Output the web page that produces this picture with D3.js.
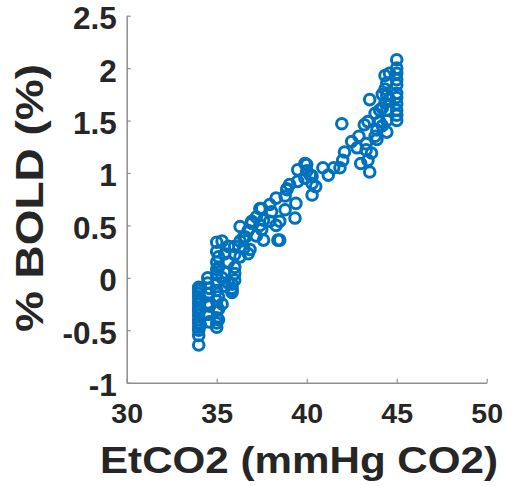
<!DOCTYPE html>
<html>
<head>
<meta charset="utf-8">
<script src="https://cdn.jsdelivr.net/npm/d3@7"></script>
<style>
  html, body { margin: 0; padding: 0; background: #fff; }
  text { font-family: "Liberation Sans", Arial, sans-serif; font-weight: bold; fill: #262626; }
</style>
</head>
<body>
<svg id="chart"></svg>
<script>
"use strict";

// EtCO2 (mmHg) for each scan point
const etco2 = [
  34.0, 34.0, 34.0, 34.0, 34.0, 34.0, 34.0, 34.0, 34.0, 34.0, 34.0, 34.0, 34.0, 34.0, 34.0,
  34.1, 34.1, 34.1, 34.1,
  34.5, 34.5, 34.5, 34.5, 34.5,
  34.6, 34.6, 34.6,
  35.0, 35.0, 35.0, 35.0, 35.0, 35.0, 35.0, 35.0, 35.0, 35.0, 35.0, 35.0,
  35.1, 35.1, 35.1, 35.1, 35.1,
  35.3, 35.3, 35.3,
  35.45, 35.45, 35.45,
  35.65, 35.65, 35.65,
  35.85, 35.85, 35.85, 35.85,
  36.0, 36.0, 36.0, 36.0, 36.0,
  36.3, 36.3, 36.3,
  36.5, 36.5,
  36.6,
  36.75, 36.75,
  36.85,
  36.95, 36.95,
  37.2, 37.2,
  37.4, 37.4,
  37.5, 37.5,
  37.6, 37.6,
  37.95, 37.95,
  38.05,
  38.3, 38.3,
  38.4,
  38.5, 38.5,
  38.8, 38.8,
  38.9, 38.9,
  39.05,
  39.35,
  39.4,
  39.5, 39.5,
  39.9, 39.9,
  40.0, 40.0,
  40.2,
  40.3, 40.3, 40.3,
  40.5,
  40.9,
  41.2,
  41.5,
  41.85,
  41.95,
  42.0,
  42.1,
  42.5,
  42.8,
  42.9,
  43.0,
  43.2,
  43.3, 43.3,
  43.4, 43.4,
  43.5, 43.5,
  43.6,
  43.8, 43.8,
  43.9, 43.9,
  44.05, 44.05,
  44.2, 44.2, 44.2,
  44.35, 44.35, 44.35,
  44.45, 44.45, 44.45, 44.45, 44.45,
  44.6, 44.6,
  45.0, 45.0, 45.0, 45.0, 45.0, 45.0, 45.0, 45.0, 45.0, 45.0, 45.0
];

// % BOLD signal change, same order as etco2
const bold = [
  -0.64, -0.55, -0.50, -0.47, -0.43, -0.40, -0.36, -0.32, -0.29, -0.25, -0.22, -0.18, -0.15, -0.12, -0.09,
  -0.45, -0.30, -0.20, -0.10,
  -0.35, -0.24, -0.15, 0.00, -0.05,
  -0.27, -0.42, -0.10,
  -0.47, -0.43, -0.38, -0.31, -0.22, -0.12, -0.05, 0.03, 0.08, 0.15, 0.25, 0.34,
  -0.40, -0.30, -0.18, 0.10, 0.20,
  0.35, 0.00, -0.25,
  0.23, 0.05, -0.08,
  0.30, 0.15, -0.05,
  -0.10, -0.14, -0.06, -0.12,
  0.04, 0.22, 0.10, -0.02, 0.30,
  0.49, 0.35, 0.20,
  0.39, 0.28,
  0.39,
  0.23, 0.45,
  0.27,
  0.52, 0.54,
  0.40, 0.58,
  0.66, 0.50,
  0.46, 0.66,
  0.36, 0.55,
  0.54, 0.70,
  0.63,
  0.76, 0.50,
  0.36,
  0.54, 0.36,
  0.65, 0.78,
  0.84, 0.85,
  0.89,
  0.57,
  0.71,
  0.92, 1.03,
  1.09, 0.95,
  1.08, 1.02,
  0.98,
  0.79, 0.90, 0.97,
  0.87,
  1.05,
  0.98,
  1.05,
  1.05,
  1.47,
  1.12,
  1.20,
  1.30,
  1.24,
  1.35,
  1.09,
  1.46,
  1.22, 1.28,
  1.12, 1.49,
  1.01, 1.70,
  1.19,
  1.57, 1.35,
  1.41, 1.32,
  1.49, 1.60,
  1.75, 1.62, 1.45,
  1.93, 1.67, 1.80,
  1.86, 1.74, 1.60, 1.39, 1.50,
  1.95, 1.70,
  2.08, 2.00, 1.95, 1.89, 1.84, 1.76, 1.72, 1.66, 1.60, 1.55, 1.50
];

const xTicks = [30, 35, 40, 45, 50];
const yTicks = [-1, -0.5, 0, 0.5, 1, 1.5, 2, 2.5];

const points = etco2.map((x, i) => ({ x: x, y: bold[i] }));

const svgWidth = 506, svgHeight = 486;
const margin = { top: 15.7, right: 19.3, bottom: 103.3, left: 126.7 };
const width = svgWidth - margin.left - margin.right;
const height = svgHeight - margin.top - margin.bottom;

const svg = d3.select("#chart")
  .attr("width", svgWidth)
  .attr("height", svgHeight);

const g = svg.append("g")
  .attr("transform", `translate(${margin.left},${margin.top})`);

const xScale = d3.scaleLinear().domain([30, 50]).range([0, width]);
const yScale = d3.scaleLinear().domain([-1, 2.5]).range([height, 0]);

// markers: open circles, MATLAB blue
g.append("g")
  .selectAll("circle")
  .data(points)
  .enter()
  .append("circle")
  .attr("cx", d => xScale(d.x))
  .attr("cy", d => yScale(d.y))
  .attr("r", 5.3)
  .attr("fill", "none")
  .attr("stroke", "#0072BD")
  .attr("stroke-width", 3);

// axes, ticks pointing inward
const xAxis = d3.axisBottom(xScale)
  .tickValues(xTicks)
  .tickSizeInner(-4)
  .tickSizeOuter(0)
  .tickPadding(14);

const yAxis = d3.axisLeft(yScale)
  .tickValues(yTicks)
  .tickSizeInner(-4)
  .tickSizeOuter(0)
  .tickPadding(10)
  .tickFormat(d => d);

const gx = g.append("g")
  .attr("transform", `translate(0,${height})`)
  .call(xAxis);

const gy = g.append("g").call(yAxis);

[gx, gy].forEach(a => {
  a.select(".domain").attr("stroke", "#8f8f8f").attr("stroke-width", 1.5);
  a.selectAll(".tick line").attr("stroke", "#8f8f8f").attr("stroke-width", 1.2);
  a.selectAll(".tick text")
    .attr("font-family", "Liberation Sans, Arial, sans-serif")
    .attr("font-weight", "bold")
    .attr("fill", "#262626");
});

gx.selectAll(".tick text")
  .attr("font-size", 28.5)
  .attr("dy", null)
  .attr("y", 40);

gy.selectAll(".tick text")
  .attr("font-size", 31.5)
  .attr("dy", null)
  .attr("y", 13);

// axis titles
svg.append("text")
  .attr("x", 299)
  .attr("y", 472.5)
  .attr("text-anchor", "middle")
  .attr("font-size", 37)
  .attr("textLength", 398)
  .attr("lengthAdjust", "spacingAndGlyphs")
  .text("EtCO2 (mmHg CO2)");

svg.append("text")
  .attr("transform", "translate(43,198) rotate(-90)")
  .attr("text-anchor", "middle")
  .attr("font-size", 38)
  .attr("textLength", 268)
  .attr("lengthAdjust", "spacingAndGlyphs")
  .text("% BOLD (%)");
</script>
</body>
</html>
